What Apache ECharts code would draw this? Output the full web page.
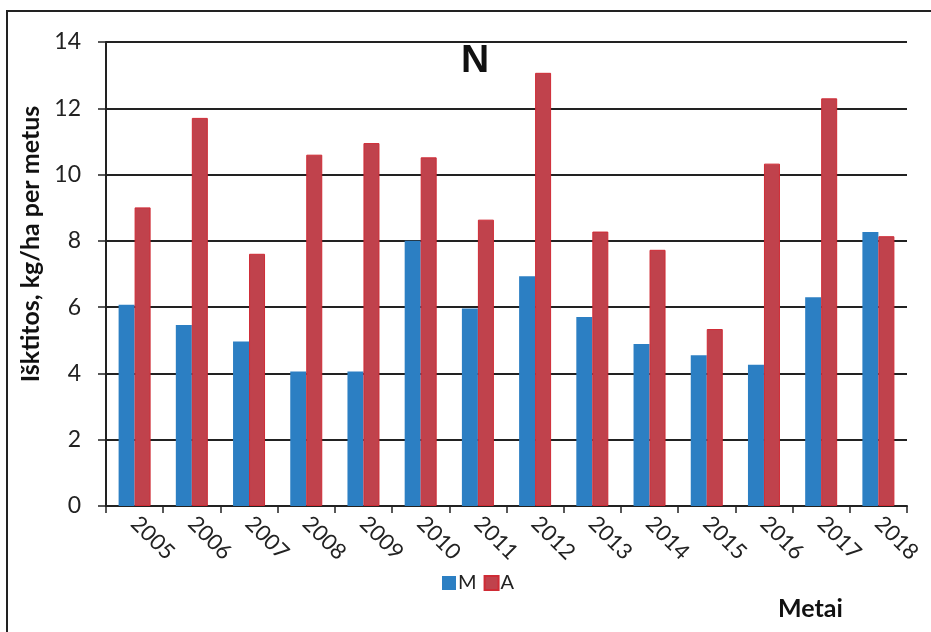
<!DOCTYPE html>
<html>
<head>
<meta charset="utf-8">
<title>N</title>
<script src="https://cdn.jsdelivr.net/npm/echarts@6/dist/echarts.min.js"></script>
<style>
  html, body{
    margin: 0;
    padding: 0;
    background: #fff;
  }
  #chartN{
    width: 931px;
    height: 632px;
  }
</style>
</head>
<body>
<div id="chartN"></div>
<script>
var years = ['2005', '2006', '2007', '2008', '2009', '2010', '2011', '2012', '2013', '2014', '2015', '2016', '2017', '2018']
var valuesM = [6.07, 5.46, 4.96, 4.06, 4.06, 8.0, 5.96, 6.93, 5.7, 4.89, 4.55, 4.26, 6.3, 8.27]
var valuesA = [9.01, 11.71, 7.61, 10.6, 10.95, 10.52, 8.64, 13.07, 8.28, 7.73, 5.34, 10.33, 12.3, 8.14]
var yTicks = [0, 2, 4, 6, 8, 10, 12, 14]

var font = 'Lato, "DejaVu Sans", sans-serif'

let myChart = echarts.init(document.getElementById('chartN'))
let option = {
  animation: false,
  backgroundColor: '#fff',
  grid: {
    left: 106,
    right: 24,
    top: 42,
    bottom: 126
  },
  legend: {
    data: ['M', 'A'],
    left: 437,
    top: 568,
    itemWidth: 14,
    itemHeight: 14,
    itemGap: 7,
    icon: 'rect',
    textStyle: {
      fontFamily: font,
      fontSize: 20,
      color: '#222',
      padding: [0, 0, 0, -3]
    }
  },
  xAxis: {
    type: 'category',
    data: years,
    axisLine: { lineStyle: { color: '#222', width: 2 } },
    axisTick: { show: true, length: 7, lineStyle: { color: '#222', width: 1.5 } },
    axisLabel: {
      rotate: -45,
      align: 'left',
      verticalAlign: 'middle',
      margin: 14,
      fontFamily: font,
      fontSize: 22,
      color: '#222'
    }
  },
  yAxis: {
    type: 'value',
    min: yTicks[0],
    max: yTicks[yTicks.length - 1],
    interval: 2,
    axisLine: { show: true, lineStyle: { color: '#222', width: 2 } },
    axisTick: { show: true, length: 8, lineStyle: { color: '#222', width: 1.5 } },
    axisLabel: {
      margin: 25,
      fontFamily: font,
      fontSize: 23,
      color: '#222'
    },
    splitLine: { lineStyle: { color: '#222', width: 2 } }
  },
  series: [
    {
      name: 'M',
      type: 'bar',
      data: valuesM,
      barWidth: 16,
      barGap: '0%',
      itemStyle: { color: '#2c7fc3' }
    },
    {
      name: 'A',
      type: 'bar',
      data: valuesA,
      barWidth: 16,
      itemStyle: { color: '#c0424c', borderColor: '#cf2b35', borderWidth: 1 }
    }
  ],
  graphic: [
    // ramelis aplink
    {
      type: 'rect',
      shape: { x: 7, y: 11, width: 960, height: 700 },
      style: { fill: null, stroke: '#222', lineWidth: 2 },
      silent: true
    },
    {
      type: 'text',
      left: 461,
      top: 42,
      style: {
        text: 'N',
        font: 'bold 39px "Liberation Sans", Arial, sans-serif',
        fill: '#111'
      }
    },
    {
      type: 'text',
      x: 31,
      y: 244,
      rotation: Math.PI / 2,
      style: {
        text: 'Išktitos, kg/ha per metus',
        font: 'bold 25px ' + font,
        fill: '#111',
        align: 'center',
        verticalAlign: 'middle'
      }
    },
    {
      type: 'text',
      left: 778,
      top: 596,
      style: {
        text: 'Metai',
        font: 'bold 25px ' + font,
        fill: '#111'
      }
    }
  ]
}
myChart.setOption(option)
</script>
</body>
</html>
